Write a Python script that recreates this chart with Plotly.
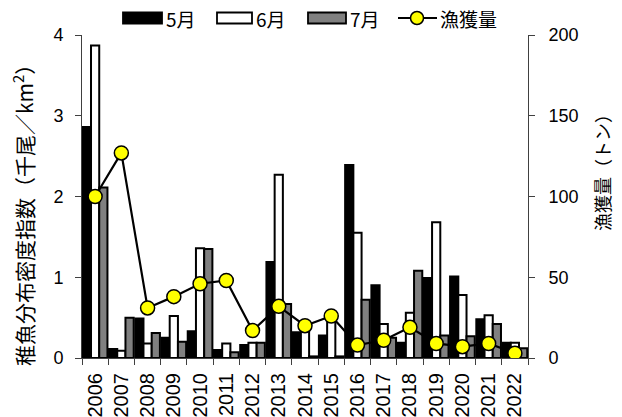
import plotly.graph_objects as go

years = [str(y) for y in range(2006, 2023)]
may = [2.86, 0.11, 0.49, 0.25, 0.33, 0.10, 0.16, 1.19, 0.32, 0.28, 2.39, 0.90, 0.19, 0.99, 1.01, 0.48, 0.19]
jun = [3.87, 0.09, 0.18, 0.52, 1.36, 0.18, 0.19, 2.27, 0.36, 0.48, 1.55, 0.42, 0.56, 1.68, 0.78, 0.53, 0.19]
jul = [2.11, 0.50, 0.31, 0.20, 1.35, 0.07, 0.19, 0.67, 0.02, 0.02, 0.72, 0.25, 1.08, 0.28, 0.27, 0.42, 0.12]
catch = [100, 127, 31, 38, 46, 48, 17, 32, 20, 26, 8, 11, 19, 9, 7, 9, 3]

legend_names = ["5月", "6月", "7月", "漁獲量"]
left_title = "稚魚分布密度指数（千尾／km<sup>2</sup>）"
right_title = "漁獲量（トン）"

W, H = 622, 417
L, R, T, B = 82, 528, 35, 358

JP = "Noto Sans CJK JP"
NUM = "Liberation Sans"

def px(x):
    return (x - L) / (R - L)

def py(y):
    return (B - y) / (B - T)

fig = go.Figure()
bar_line = dict(color="black", width=2)
fig.add_trace(go.Bar(x=years, y=may, name=legend_names[0], marker=dict(color="black", line=bar_line), showlegend=False))
fig.add_trace(go.Bar(x=years, y=jun, name=legend_names[1], marker=dict(color="white", line=bar_line), showlegend=False))
fig.add_trace(go.Bar(x=years, y=jul, name=legend_names[2], marker=dict(color="#808080", line=bar_line), showlegend=False))
fig.add_trace(go.Scatter(x=years, y=catch, name=legend_names[3], yaxis="y2", mode="lines+markers",
                         line=dict(color="black", width=2.2),
                         marker=dict(color="#ffff00", size=14, line=dict(color="black", width=1.5)),
                         showlegend=False))

axis_col = "#404040"
fig.update_layout(
    width=W, height=H,
    margin=dict(l=L, r=W - R, t=T, b=H - B, pad=0),
    paper_bgcolor="white", plot_bgcolor="white",
    barmode="group", bargap=0.06, bargroupgap=0,
    xaxis=dict(type="category", range=[-0.5, len(years) - 0.5], showgrid=False, showline=True,
               linecolor=axis_col, linewidth=1, automargin=False,
               ticks="outside", tickson="boundaries", ticklen=6, tickcolor=axis_col,
               tickangle=-90, tickfont=dict(family=NUM, size=20, color="black"),
               ticklabelstandoff=6),
    yaxis=dict(range=[0, 4], dtick=1, showgrid=False, zeroline=False, showline=True, automargin=False,
               linecolor=axis_col, linewidth=1, ticks="outside", ticklen=6, tickcolor=axis_col,
               tickfont=dict(family=NUM, size=18, color="black"), ticklabelstandoff=8),
    yaxis2=dict(range=[0, 200], dtick=50, overlaying="y", side="right", showgrid=False, zeroline=False,
                showline=True, linecolor=axis_col, linewidth=1, ticks="outside", ticklen=6, automargin=False,
                tickcolor=axis_col, tickfont=dict(family=NUM, size=18, color="black"),
                ticklabelstandoff=10),
    showlegend=False,
)

# axis titles
fig.add_annotation(text=left_title, xref="paper", yref="paper", x=px(23), y=py(210),
                   textangle=-90, showarrow=False, xanchor="center", yanchor="middle",
                   font=dict(family=JP, size=21, color="black"))
fig.add_annotation(text=right_title, xref="paper", yref="paper", x=px(602), y=py(168),
                   textangle=-90, showarrow=False, xanchor="center", yanchor="middle",
                   font=dict(family=JP, size=18, color="black"))

# custom legend (layout decoration)
ly = 18
sw_h = 11
swatches = [(123, 162, "black"), (217, 252, "white"), (308, 346, "#808080")]
labels_x = [164, 254, 348]
for (x0, x1, col), lx, name in zip(swatches, labels_x, legend_names[:3]):
    fig.add_shape(type="rect", xref="paper", yref="paper", x0=px(x0), x1=px(x1),
                  y0=py(ly + sw_h / 2), y1=py(ly - sw_h / 2), fillcolor=col,
                  line=dict(color="black", width=1.8))
    fig.add_annotation(text=name, xref="paper", yref="paper", x=px(lx), y=py(ly),
                       showarrow=False, xanchor="left", yanchor="middle",
                       font=dict(family=JP, size=19, color="black"))
fig.add_shape(type="line", xref="paper", yref="paper", x0=px(398), x1=px(437), y0=py(ly), y1=py(ly),
              line=dict(color="black", width=2))
r = 6.5
fig.add_shape(type="circle", xref="paper", yref="paper", x0=px(417 - r), x1=px(417 + r),
              y0=py(ly + r), y1=py(ly - r), fillcolor="#ffff00", line=dict(color="black", width=1.5))
fig.add_annotation(text=legend_names[3], xref="paper", yref="paper", x=px(438), y=py(ly),
                   showarrow=False, xanchor="left", yanchor="middle",
                   font=dict(family=JP, size=19, color="black"))

fig.write_html("out.html")
